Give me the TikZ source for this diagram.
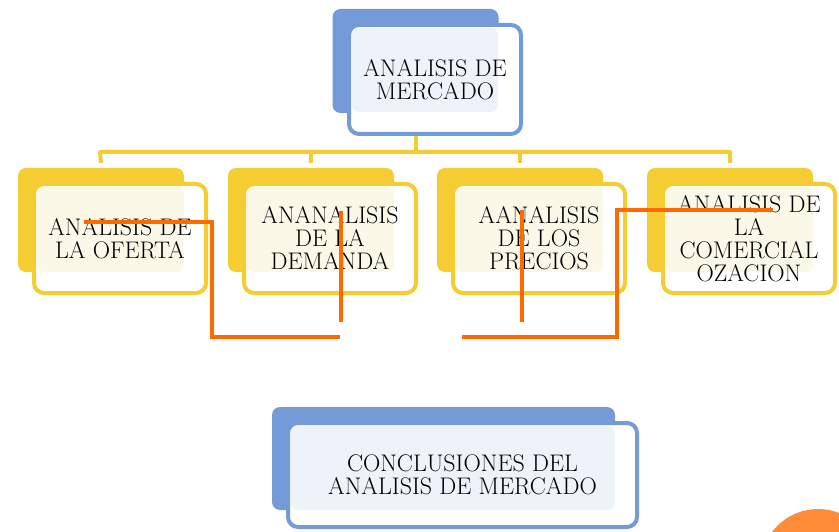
\documentclass[tikz,border=0pt]{standalone}
\usetikzlibrary{positioning}

\definecolor{azul}{RGB}{116,154,216}
\definecolor{azulclaro}{RGB}{238,243,250}
\definecolor{amarillo}{RGB}{245,205,50}
\definecolor{amarilloclaro}{RGB}{251,248,232}
\definecolor{naranja}{RGB}{255,106,0}
\definecolor{naranjaclaro}{RGB}{255,140,56}

\tikzset{
  back/.style={rectangle,rounded corners=8pt,inner sep=0pt,
    minimum width=166pt,minimum height=104pt},
  front/.style={rectangle,rounded corners=10pt,inner sep=0pt,line width=4pt,
    fill=white,minimum width=172pt,minimum height=109pt},
  light/.style={rectangle,rounded corners=7pt,inner sep=0pt,
    minimum width=147pt,minimum height=85pt},
  txt/.style={align=center,inner sep=0pt,font=\fontsize{24}{23}\selectfont},
  bus/.style={draw=amarillo,line width=4pt,line join=round},
  wire/.style={draw=naranja,line width=4pt}
}

\begin{document}
\begin{tikzpicture}[x=1pt,y=-1pt]
  \useasboundingbox (0,0) rectangle (839,532);
  \clip (0,0) rectangle (839,532);

  % shadow boxes
  \begin{scope}[every node/.style={back,fill=amarillo}]
    \node (ofb)  at (101,220) {};
    \node (deb)  at (311,220) {};
    \node (preb) at (520,220) {};
    \node (cozb) at (730,220) {};
  \end{scope}
  \node[back,fill=azul] (topb) at (415.5,61) {};
  \node[back,fill=azul,minimum width=343pt,minimum height=103pt] (conb) at (443.5,458.5) {};

  % yellow tree lines
  \coordinate (busl) at (100,152);
  \coordinate (busr) at (730,152);
  \draw[bus] ([yshift=5pt]ofb.north) -- (busl) -- (busr) -- ([yshift=5pt]cozb.north);
  \draw[bus] ([yshift=5pt]deb.north) -- (deb.north |- busl);
  \draw[bus] ([yshift=5pt]preb.north) -- (preb.north |- busl);
  \draw[bus] ([yshift=-6pt]topb.south) -- (topb.south |- busl);

  % front boxes
  \begin{scope}[every node/.style={front,draw=amarillo}]
    \node (of)  at (120,238.5) {};
    \node (de)  at (330,238.5) {};
    \node (pre) at (539,238.5) {};
    \node (coz) at (749,238.5) {};
  \end{scope}
  \node[front,draw=azul] (top) at (435,79.5) {};
  \node[front,draw=azul,minimum width=349pt,minimum height=104pt] (con) at (462.5,475) {};

  \begin{scope}[every node/.style={light,fill=amarilloclaro}]
    \node (ofl)  at (110.5,229.5) {};
    \node (del)  at (320.5,229.5) {};
    \node (prel) at (529.5,229.5) {};
    \node (cozl) at (739.5,229.5) {};
  \end{scope}
  \node[light,fill=azulclaro,minimum width=146pt,minimum height=84pt] (topl) at (425,70) {};
  \node[light,fill=azulclaro,minimum width=324pt,minimum height=84pt] (conl) at (453,468) {};

  % labels
  \begin{scope}[every node/.style={txt}]
    \node (topt) at (top) {ANALISIS DE\\MERCADO};
    \node (oft)  at (of)  {ANALISIS DE\\LA OFERTA};
    \node (det)  at (de)  {ANANALISIS\\DE LA\\DEMANDA};
    \node (pret) at (pre) {AANALISIS\\DE LOS\\PRECIOS};
    \node (cozt) at (coz) {ANALISIS DE\\LA\\COMERCIAL\\OZACION};
    \node (cont) at (con) {CONCLUSIONES DEL\\ANALISIS DE MERCADO};
  \end{scope}

  % orange strokes
  \draw[wire] (84,222) -| (212,337) -- (340,337);
  \draw[wire] (341,211) -- (341,322);
  \draw[wire] (522,210) -- (522,322);
  \draw[wire] (462,337) -| (617,210) -- (773,210);

  \fill[naranjaclaro] (818,566.5) circle (57.5);
\end{tikzpicture}
\end{document}
